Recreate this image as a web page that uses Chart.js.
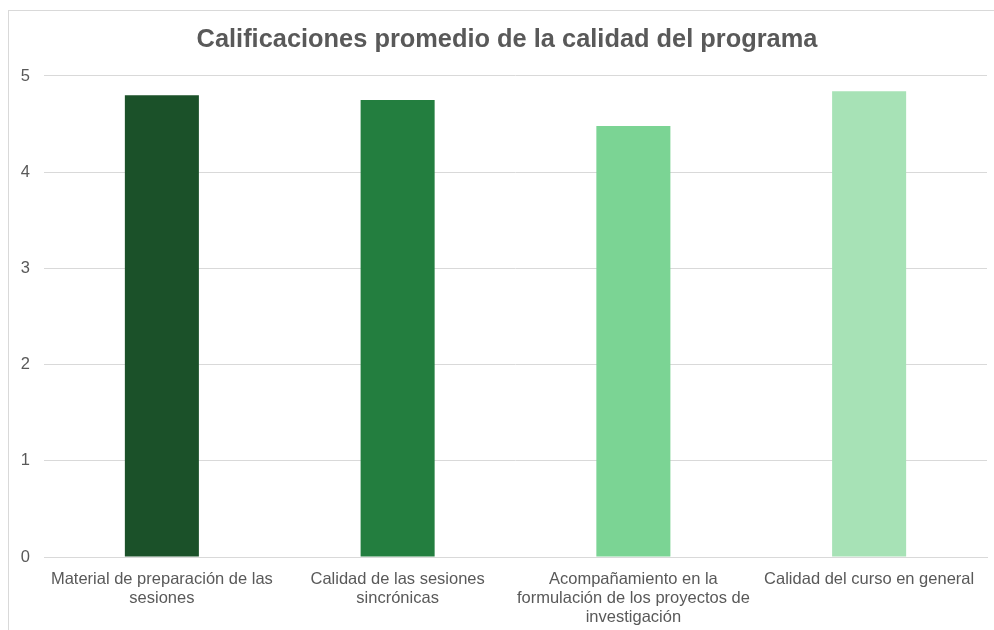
<!DOCTYPE html>
<html><head><meta charset="utf-8">
<script src="https://cdn.jsdelivr.net/npm/chart.js@4"></script>
<style>
html,body{margin:0;padding:0;background:#fff;}
#wrap{position:relative;width:994px;height:630px;overflow:hidden;}
#frame{position:absolute;left:8px;top:10px;width:1100px;height:700px;border:1px solid #d9d9d9;box-sizing:border-box;}
canvas{position:absolute;left:0;top:0;}
</style></head>
<body><div id="wrap"><div id="frame"></div><canvas id="c" width="994" height="630"></canvas></div>
<script>
const categories = [
  ["Material de preparación de las","sesiones"],
  ["Calidad de las sesiones","sincrónicas"],
  ["Acompañamiento en la","formulación de los proyectos de","investigación"],
  ["Calidad del curso en general"]
];
const values = [4.80, 4.75, 4.48, 4.84];
const barColors = ["#1B5129", "#237E3F", "#7BD494", "#A7E2B6"];
const yTicks = [0,1,2,3,4,5];
const titleText = "Calificaciones promedio de la calidad del programa";

const font = "'Liberation Sans', Arial, Helvetica, sans-serif";
const unclipY = { id: 'unclipY', afterLayout(chart) { chart.scales.y.left = 0; } };
new Chart(document.getElementById('c'), {
  type: 'bar',
  data: { labels: categories, datasets: [{ data: values, backgroundColor: barColors, borderWidth: 0,
    categoryPercentage: 1, barPercentage: 0.314 }] },
  options: {
    responsive: false, animation: false,
    layout: { padding: { left: 27, right: 7, top: 0, bottom: 0 } },
    plugins: {
      legend: { display: false }, tooltip: { enabled: false },
      title: { display: true, text: titleText, color: '#595959',
        font: { family: font, size: 25.4, weight: 'bold' }, padding: { top: 25, bottom: 20.5 } }
    },
    scales: {
      y: { min: 0, max: 5, afterFit: s => { s.width = 17; },
        afterBuildTicks: s => { s.ticks = yTicks.map(v => ({ value: v })); },
        grid: { color: '#d9d9d9', lineWidth: 1, drawTicks: false },
        border: { display: false },
        ticks: { color: '#595959', font: { family: font, size: 16.5 }, padding: 14 } },
      x: { afterFit: s => { s.height = 73; },
        grid: { display: false, drawTicks: false },
        border: { display: true, color: '#d9d9d9', width: 1 },
        ticks: { color: '#595959', font: { family: font, size: 16.5, lineHeight: 1.15 }, padding: 13, maxRotation: 0, autoSkip: false } }
    }
  },
  plugins: [unclipY]
});
</script></body></html>
